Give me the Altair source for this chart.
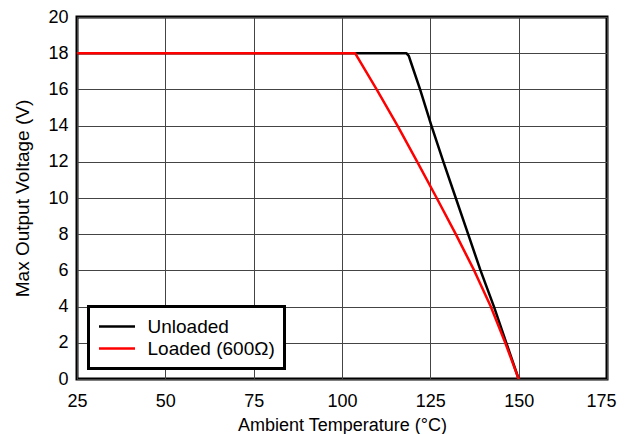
import altair as alt
import pandas as pd

# ---- data ----
unloaded_t = [25, 118.2, 118.9, 119.5, 122.1, 125.3, 128.7, 132.2, 135.7, 139.2, 143.0, 146.5, 150.0]
unloaded_v = [18, 18.0, 17.85, 17.5, 16.0, 14.0, 12.0, 10.0, 8.0, 6.0, 4.0, 2.0, 0.0]
loaded_t = [25, 103.7, 109.8, 115.7, 121.3, 126.8, 132.2, 137.4, 142.1, 146.2, 150.0]
loaded_v = [18, 18.0, 16.0, 14.0, 12.0, 10.0, 8.0, 6.0, 4.0, 2.0, 0.0]
series = ["Unloaded", "Loaded (600Ω)"]
colors = ["#000000", "#ff0000"]
x_ticks = [25, 50, 75, 100, 125, 150, 175]
y_ticks = [0, 2, 4, 6, 8, 10, 12, 14, 16, 18, 20]

df_u = pd.DataFrame({"t": unloaded_t, "v": unloaded_v, "s": series[0], "o": range(len(unloaded_t))})
df_l = pd.DataFrame({"t": loaded_t, "v": loaded_v, "s": series[1], "o": range(len(loaded_t))})

FONT = "Liberation Sans"

x_enc = alt.X("t:Q",
              scale=alt.Scale(domain=[x_ticks[0], x_ticks[-1]], nice=False, zero=False),
              axis=alt.Axis(values=x_ticks, title="Ambient Temperature (°C)",
                            labelFlush=False, labelPadding=13, titlePadding=6,
                            labelOffset={"condition": {"test": f"datum.value == {x_ticks[-1]}", "value": -6},
                                         "value": 0}))
y_enc = alt.Y("v:Q",
              scale=alt.Scale(domain=[y_ticks[0], y_ticks[-1]], nice=False),
              axis=alt.Axis(values=y_ticks, title="Max Output Voltage (V)",
                            labelFlush=False, labelPadding=9, titlePadding=15,
                            titleFontSize=19))
color_enc = alt.Color("s:N",
                      scale=alt.Scale(domain=series, range=colors),
                      legend=alt.Legend(title=None, orient="none", legendX=11.5, legendY=289.5,
                                        padding=9, clipHeight=22, rowPadding=0,
                                        symbolType="stroke", symbolSize=1296,
                                        symbolStrokeWidth=2.5, labelOffset=11,
                                        fillColor="white", strokeColor="black"))

line_u = alt.Chart(df_u).mark_line(strokeWidth=2.5, strokeJoin="round").encode(
    x=x_enc, y=y_enc, color=color_enc, order="o:Q")
line_l = alt.Chart(df_l).mark_line(strokeWidth=2.5, strokeJoin="round").encode(
    x=x_enc, y=y_enc, color=color_enc, order="o:Q")

chart = alt.layer(line_u, line_l).properties(
    width=530, height=362,
    autosize=alt.AutoSizeParams(type="none"),
    padding={"left": 69, "top": 9, "right": 10, "bottom": 57},
    background="white",
).configure_view(
    stroke="black", strokeWidth=3
).configure_axis(
    domain=False, ticks=False,
    grid=True, gridColor="#444444", gridWidth=1,
    labelFont=FONT, labelFontSize=18, labelColor="black",
    titleFont=FONT, titleFontSize=18, titleFontWeight="normal", titleColor="black",
).configure_legend(
    labelFont=FONT, labelFontSize=19, labelColor="black", strokeWidth=3,
)

chart.save("out.html", embed_options={"renderer": "svg", "actions": False})
